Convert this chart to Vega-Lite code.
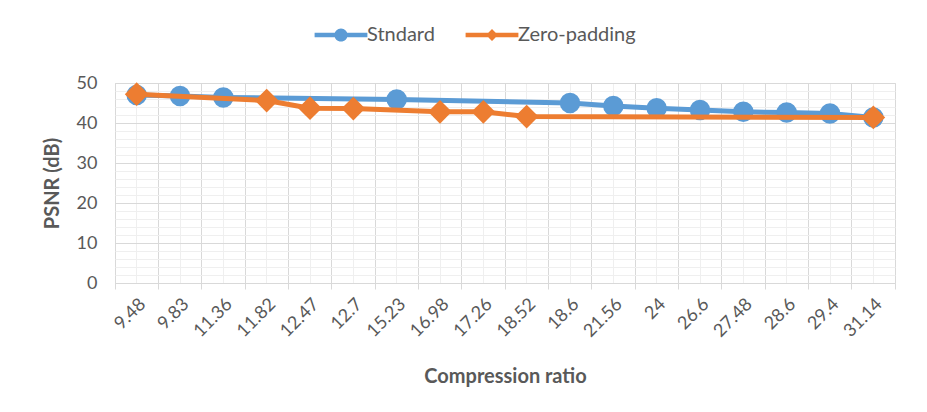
{
  "$schema": "https://vega.github.io/schema/vega-lite/v6.json",
  "width": 780,
  "height": 200,
  "autosize": {"type": "none"},
  "padding": {"left": 115, "top": 83, "right": 32, "bottom": 129},
  "background": "white",
  "config": {
    "view": {"stroke": "#d9d9d9", "strokeWidth": 1},
    "font": "Lato",
    "axis": {"labelFont": "Lato", "titleFont": "Lato", "labelColor": "#595959", "titleColor": "#595959", "labelFontSize": 18, "titleFontSize": 20, "titleFontWeight": "bold"},
    "legend": {"labelFont": "Lato", "labelColor": "#595959", "labelFontSize": 20}
  },
  "data": {
    "values": [
      {"ratio": "9.48", "series": "Stndard", "psnr": 47.0},
      {"ratio": "9.83", "series": "Stndard", "psnr": 46.75},
      {"ratio": "11.36", "series": "Stndard", "psnr": 46.4},
      {"ratio": "15.23", "series": "Stndard", "psnr": 45.9},
      {"ratio": "18.6", "series": "Stndard", "psnr": 45.0},
      {"ratio": "21.56", "series": "Stndard", "psnr": 44.25},
      {"ratio": "24", "series": "Stndard", "psnr": 43.7},
      {"ratio": "26.6", "series": "Stndard", "psnr": 43.25},
      {"ratio": "27.48", "series": "Stndard", "psnr": 42.8},
      {"ratio": "28.6", "series": "Stndard", "psnr": 42.6},
      {"ratio": "29.4", "series": "Stndard", "psnr": 42.4},
      {"ratio": "31.14", "series": "Stndard", "psnr": 41.4},
      {"ratio": "9.48", "series": "Zero-padding", "psnr": 47.2},
      {"ratio": "11.82", "series": "Zero-padding", "psnr": 45.6},
      {"ratio": "12.47", "series": "Zero-padding", "psnr": 43.7},
      {"ratio": "12.7", "series": "Zero-padding", "psnr": 43.6},
      {"ratio": "16.98", "series": "Zero-padding", "psnr": 42.8},
      {"ratio": "17.26", "series": "Zero-padding", "psnr": 42.8},
      {"ratio": "18.52", "series": "Zero-padding", "psnr": 41.6},
      {"ratio": "31.14", "series": "Zero-padding", "psnr": 41.4}
    ]
  },
  "resolve": {"axis": {"x": "independent", "y": "independent"}},
  "layer": [
    {
      "transform": [{"filter": "datum.series === 'Stndard'"}],
      "mark": {"type": "line", "color": "#5B9BD5", "strokeWidth": 5},
      "encoding": {
        "x": {"field": "ratio", "type": "nominal",
          "sort": ["9.48","9.83","11.36","11.82","12.47","12.7","15.23","16.98","17.26","18.52","18.6","21.56","24","26.6","27.48","28.6","29.4","31.14"],
          "scale": {"type": "band", "paddingInner": 0, "paddingOuter": 0, "domain": ["9.48","9.83","11.36","11.82","12.47","12.7","15.23","16.98","17.26","18.52","18.6","21.56","24","26.6","27.48","28.6","29.4","31.14"]},
          "axis": {"orient": "bottom", "bandPosition": 0.5, "grid": true, "gridColor": "#efefef", "gridWidth": 1, "labels": false, "ticks": false, "domain": false, "title": null}},
        "y": {"field": "psnr", "type": "quantitative", "scale": {"domain": [0, 50], "nice": false, "zero": true},
          "axis": {"orient": "left", "values": [2,4,6,8,12,14,16,18,22,24,26,28,32,34,36,38,42,44,46,48], "grid": true, "gridColor": "#efefef", "gridWidth": 1, "labels": false, "ticks": false, "domain": false, "title": null}}
      }
    },
    {
      "transform": [{"filter": "datum.series === 'Stndard'"}],
      "mark": {"type": "point", "shape": "circle", "filled": true, "opacity": 1, "color": "#5B9BD5", "size": 420},
      "encoding": {
        "x": {"field": "ratio", "type": "nominal",
          "sort": ["9.48","9.83","11.36","11.82","12.47","12.7","15.23","16.98","17.26","18.52","18.6","21.56","24","26.6","27.48","28.6","29.4","31.14"],
          "scale": {"type": "band", "paddingInner": 0, "paddingOuter": 0, "domain": ["9.48","9.83","11.36","11.82","12.47","12.7","15.23","16.98","17.26","18.52","18.6","21.56","24","26.6","27.48","28.6","29.4","31.14"]},
          "axis": {"orient": "bottom", "bandPosition": 0, "grid": true, "gridColor": "#d9d9d9", "gridWidth": 1, "labels": false, "ticks": true, "tickSize": 6, "tickColor": "#d9d9d9", "domain": false, "title": null}},
        "y": {"field": "psnr", "type": "quantitative", "scale": {"domain": [0, 50], "nice": false, "zero": true},
          "axis": {"orient": "left", "values": [0,10,20,30,40,50], "grid": true, "gridColor": "#d9d9d9", "gridWidth": 1, "ticks": false, "domain": false, "labelPadding": 18, "title": "PSNR (dB)", "titlePadding": 14}}
      }
    },
    {
      "transform": [{"filter": "datum.series === 'Zero-padding'"}],
      "mark": {"type": "line", "color": "#ED7D31", "strokeWidth": 5},
      "encoding": {
        "x": {"field": "ratio", "type": "nominal",
          "sort": ["9.48","9.83","11.36","11.82","12.47","12.7","15.23","16.98","17.26","18.52","18.6","21.56","24","26.6","27.48","28.6","29.4","31.14"],
          "scale": {"type": "band", "paddingInner": 0, "paddingOuter": 0, "domain": ["9.48","9.83","11.36","11.82","12.47","12.7","15.23","16.98","17.26","18.52","18.6","21.56","24","26.6","27.48","28.6","29.4","31.14"]},
          "axis": {"orient": "bottom", "bandPosition": 0.5, "grid": false, "labels": true, "labelAngle": -45, "labelPadding": 12, "ticks": false, "domain": false, "title": "Compression ratio", "titlePadding": 26}},
        "y": {"field": "psnr", "type": "quantitative", "scale": {"domain": [0, 50], "nice": false, "zero": true}, "axis": null}
      }
    },
    {
      "transform": [{"filter": "datum.series === 'Zero-padding'"}],
      "mark": {"type": "point", "shape": "diamond", "filled": true, "opacity": 1, "color": "#ED7D31", "size": 560},
      "encoding": {
        "x": {"field": "ratio", "type": "nominal",
          "sort": ["9.48","9.83","11.36","11.82","12.47","12.7","15.23","16.98","17.26","18.52","18.6","21.56","24","26.6","27.48","28.6","29.4","31.14"],
          "scale": {"type": "band", "paddingInner": 0, "paddingOuter": 0, "domain": ["9.48","9.83","11.36","11.82","12.47","12.7","15.23","16.98","17.26","18.52","18.6","21.56","24","26.6","27.48","28.6","29.4","31.14"]},
          "axis": {"orient": "bottom", "values": ["31.14"], "bandPosition": 1, "grid": false, "labels": false, "ticks": true, "tickSize": 6, "tickColor": "#d9d9d9", "domain": false, "title": null}},
        "y": {"field": "psnr", "type": "quantitative", "scale": {"domain": [0, 50], "nice": false, "zero": true}, "axis": null}
      }
    },
    {
      "transform": [{"filter": "false"}],
      "mark": {"type": "point", "filled": true},
      "encoding": {
        "x": {"field": "ratio", "type": "nominal",
          "sort": ["9.48","9.83","11.36","11.82","12.47","12.7","15.23","16.98","17.26","18.52","18.6","21.56","24","26.6","27.48","28.6","29.4","31.14"],
          "scale": {"type": "band", "paddingInner": 0, "paddingOuter": 0, "domain": ["9.48","9.83","11.36","11.82","12.47","12.7","15.23","16.98","17.26","18.52","18.6","21.56","24","26.6","27.48","28.6","29.4","31.14"]},
          "axis": null},
        "y": {"field": "psnr", "type": "quantitative", "scale": {"domain": [0, 50], "nice": false, "zero": true}, "axis": null},
        "color": {"field": "series", "type": "nominal",
          "scale": {"domain": ["Stndard", "Zero-padding"], "range": ["#5B9BD5", "#ED7D31"]},
          "legend": {"title": null, "orient": "none", "legendX": 216, "legendY": -58, "direction": "horizontal", "symbolSize": 144, "labelOffset": 16, "columnPadding": 30, "symbolStrokeWidth": 0, "symbolOpacity": 1}},
        "shape": {"field": "series", "type": "nominal",
          "scale": {"domain": ["Stndard", "Zero-padding"], "range": [
            "M-4.4,-0.38L-1,-0.38L-1,0.38L-4.4,0.38Z M1,-0.38L4.4,-0.38L4.4,0.38L1,0.38Z M-1.1,0A1.1,1.1,0,1,1,1.1,0A1.1,1.1,0,1,1,-1.1,0Z",
            "M-4.4,-0.38L-0.62,-0.38L-0.62,0.38L-4.4,0.38Z M0.62,-0.38L4.4,-0.38L4.4,0.38L0.62,0.38Z M0,-1L1,0L0,1L-1,0Z"
          ]},
          "legend": {"title": null, "orient": "none", "legendX": 216, "legendY": -58, "direction": "horizontal", "symbolSize": 144, "labelOffset": 16, "columnPadding": 30, "symbolStrokeWidth": 0, "symbolOpacity": 1}}
      }
    }
  ]
}
